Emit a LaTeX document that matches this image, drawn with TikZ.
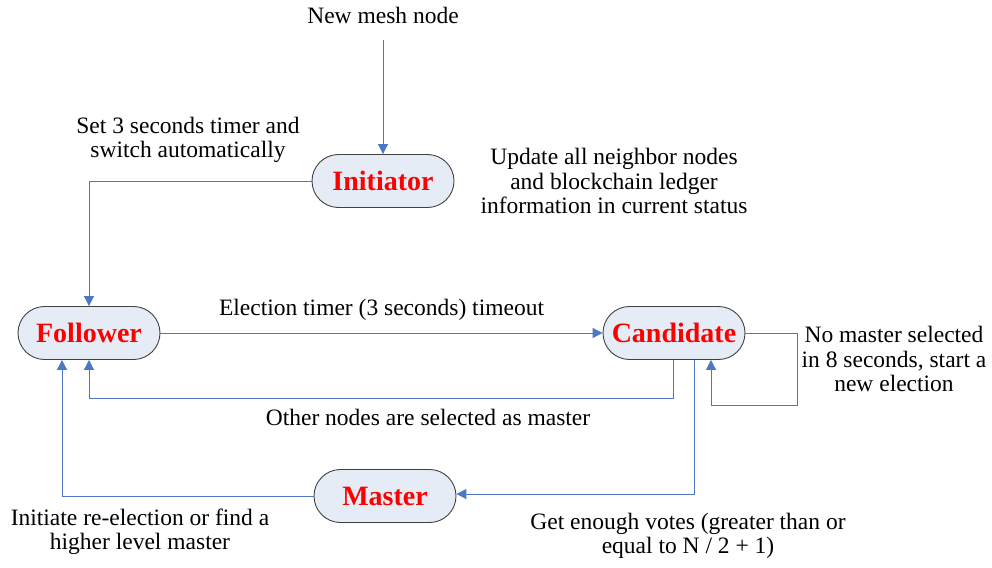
\documentclass[tikz,border=0pt]{standalone}
\usepackage{fontspec}
\setmainfont{Liberation Serif}
\usetikzlibrary{arrows.meta,shapes.misc}
\definecolor{linkblue}{HTML}{4A78C2}
\definecolor{statefill}{HTML}{E6ECF6}
\begin{document}
\begin{tikzpicture}[x=1pt, y=-1pt,
  font=\fontsize{23.5}{24.5}\selectfont,
  state/.style={rounded rectangle, draw=black!75, line width=0.9pt, fill=statefill,
    minimum width=142pt, minimum height=53pt, inner sep=0pt,
    text=red, font=\fontsize{28}{30}\selectfont\bfseries},
  link/.style={draw=linkblue, line width=1pt, -{Triangle[length=10pt,width=10pt]}},
  note/.style={align=center, inner sep=0pt}]
\useasboundingbox (0,0) rectangle (992,567);
\node (S_init) at (383,181) [state] {Initiator};
\node (S_foll) at (89,333) [state] {Follower};
\node (S_cand) at (674,333) [state] {Candidate};
\node (S_mast) at (385,496) [state] {Master};
\node (T_new) at (383,15) [note] {New mesh node};
\coordinate (C_new) at (383,40);
\draw[link] (C_new) -- (S_init.north);
\node (T_set) at (188,140) [note] {Set 3 seconds timer and\\switch automatically};
\draw[link] (S_init.west) -| (S_foll.north);
\node (T_upd) at (614,181) [note] {Update all neighbor nodes\\and blockchain ledger\\information in current status};
\draw[link] (S_foll.east) -- (S_cand.west) node[midway, above=12pt, inner sep=0pt] {Election timer (3 seconds) timeout};
\coordinate (C_oth) at (673,398);
\draw[link] (S_cand.south -| C_oth) -- (C_oth) -| (S_foll.south);
\node (T_oth) at (428,417) [note] {Other nodes are selected as master};
\coordinate (C_vot) at (694,494);
\draw[link] (S_cand.south -| C_vot) -- (C_vot) -- (S_mast.east |- C_vot);
\node (T_vot) at (688,536) [note] {Get enough votes (greater than or\\equal to N / 2 + 1)};
\coordinate (C_lpa) at (797,405);
\coordinate (C_lpb) at (711,405);
\draw[link] (S_cand.east) -| (C_lpa) -- (C_lpb) -- (S_cand.south -| C_lpb);
\node (T_lp) at (894,359) [note] {No master selected\\in 8 seconds, start a\\new election};
\coordinate (C_re) at (62,496);
\draw[link] (S_mast.west) -- (C_re) -- (S_foll.south -| C_re);
\node (T_re) at (140,532) [note] {Initiate re-election or find a\\higher level master};
\end{tikzpicture}
\end{document}
